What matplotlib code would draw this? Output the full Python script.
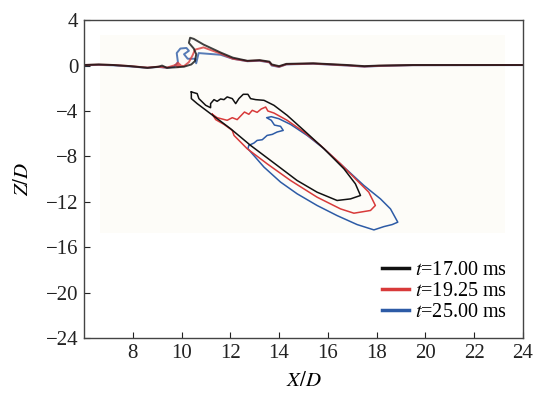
import numpy as np
import matplotlib.pyplot as plt

plt.rcParams['font.family'] = ['Liberation Serif', 'DejaVu Serif']
plt.rcParams['mathtext.fontset'] = 'stix'

labels = ["17.00", "19.25", "25.00"]
colors = ["#111111", "#d83a3a", "#2d5ba6"]

# free surface (x, z) for each time
surf_x_17 = [6.0, 6.6, 7.2, 7.9, 8.6, 9.05, 9.2, 9.4, 9.8, 10.1, 10.4, 10.55, 10.6, 10.5, 10.3,
             10.35, 10.5, 10.9, 11.6, 12.1, 12.7, 13.2, 13.6, 13.7, 14.0, 14.3, 15.4, 16.8,
             17.5, 18.1, 19.5, 24.0]
surf_z_17 = [0.05, 0.1, 0.05, -0.05, -0.2, -0.1, 0.0, -0.2, -0.15, -0.1, 0.1, 0.4, 1.0, 1.5, 2.0,
             2.45, 2.35, 1.85, 1.15, 0.7, 0.42, 0.48, 0.35, 0.1, -0.05, 0.15, 0.2, 0.05,
             -0.05, 0.0, 0.05, 0.05]

surf_x_19 = [6.0, 6.6, 7.2, 7.9, 8.6, 9.05, 9.4, 9.75, 9.85, 9.95, 9.85, 9.75, 10.1, 10.3, 10.45,
             10.55, 10.9, 11.6, 12.1, 12.7, 13.2, 13.6, 13.7, 14.0, 14.3, 15.4, 16.8, 17.5,
             18.1, 19.5, 24.0]
surf_z_19 = [0.05, 0.08, 0.05, -0.05, -0.18, -0.1, -0.18, 0.05, 0.25, 0.05, -0.12, 0.05, -0.05, 0.3, 0.9,
             1.4, 1.6, 1.05, 0.6, 0.4, 0.45, 0.3, 0.05, -0.1, 0.12, 0.18, 0.02, -0.08,
             -0.02, 0.04, 0.05]

surf_x_25 = [6.0, 6.6, 7.2, 7.9, 8.6, 9.05, 9.4, 9.7, 9.85, 9.8, 9.95, 10.2, 10.3, 10.1, 10.25,
             10.55, 10.6, 10.7, 11.6, 12.1, 12.7, 13.2, 13.6, 13.7, 14.0, 14.3, 15.4, 16.8,
             17.5, 18.1, 19.5, 24.0]
surf_z_25 = [0.02, 0.06, 0.02, -0.08, -0.2, -0.12, -0.2, -0.1, 0.3, 1.1, 1.5, 1.55, 1.3, 1.0, 0.6,
             0.6, 0.2, 1.1, 0.95, 0.6, 0.38, 0.42, 0.28, 0.0, -0.12, 0.1, 0.16, 0.0,
             -0.1, -0.04, 0.03, 0.04]

# submerged cavity outlines (closed)
cav_x_17 = [10.40, 10.64, 10.71, 10.99, 11.19, 11.19, 11.33, 11.46, 11.60, 11.74, 11.87, 12.08,
            12.22, 12.35, 12.53, 12.72, 12.83, 13.04, 13.38, 13.79, 14.33, 15.02, 15.84, 16.66,
            17.13, 17.34, 16.93, 16.38, 15.56, 14.74, 13.92, 12.83, 12.01, 11.19, 10.64, 10.40,
            10.40]
cav_z_17 = [-2.32, -2.47, -2.91, -3.50, -3.71, -3.35, -3.00, -3.15, -2.94, -3.00, -2.76, -2.91,
            -3.35, -2.91, -2.53, -2.53, -2.91, -3.00, -3.06, -3.50, -4.38, -5.71, -7.32, -9.09,
            -10.41, -11.44, -11.74, -11.88, -11.15, -10.12, -8.79, -7.03, -5.56, -4.24, -3.35, -2.91,
            -2.32]

cav_x_19 = [11.26, 11.46, 11.87, 12.08, 12.28, 12.45, 12.58, 12.76, 12.90, 13.10, 13.27, 13.45,
            13.54, 13.79, 14.33, 15.02, 15.70, 16.52, 17.20, 17.68, 17.95, 17.75, 17.07, 16.52,
            15.56, 14.47, 13.51, 12.69, 12.15, 12.08, 11.74, 11.40, 11.26]
cav_z_19 = [-4.29, -4.59, -4.82, -4.59, -4.76, -4.38, -4.09, -4.29, -3.94, -4.12, -3.82, -3.65,
            -4.00, -4.18, -4.82, -5.85, -7.03, -8.65, -10.12, -11.15, -12.32, -12.76, -13.00, -12.62,
            -11.59, -10.12, -8.65, -7.32, -6.15, -5.71, -5.18, -4.76, -4.29]

cav_x_25 = [12.76, 12.97, 13.10, 13.31, 13.51, 13.72, 13.92, 14.17, 14.06, 13.81, 13.68, 13.49,
            13.68, 13.99, 14.47, 15.15, 15.84, 16.66, 17.48, 18.16, 18.57, 18.87, 18.64, 18.30,
            17.89, 17.20, 16.38, 15.56, 14.74, 14.06, 13.38, 12.90, 12.72, 12.76]
cav_z_25 = [-7.03, -6.82, -6.59, -6.53, -6.15, -6.06, -5.85, -5.71, -5.35, -5.24, -4.82, -4.59,
            -4.50, -4.68, -5.18, -6.15, -7.32, -8.94, -10.56, -11.74, -12.62, -13.79, -14.00, -14.18,
            -14.47, -14.00, -13.21, -12.32, -11.29, -10.26, -8.94, -7.76, -7.32, -7.03]

x_ticks = [8, 10, 12, 14, 16, 18, 20, 22, 24]
y_ticks = [4, 0, -4, -8, -12, -16, -20, -24]

surfaces = [(surf_x_17, surf_z_17), (surf_x_19, surf_z_19), (surf_x_25, surf_z_25)]
cavities = [(cav_x_17, cav_z_17), (cav_x_19, cav_z_19), (cav_x_25, cav_z_25)]

fig = plt.figure(figsize=(5.39, 3.95), dpi=100)
ax = fig.add_axes([0.156, 0.144, 0.814, 0.805])

# faint background of the simulation snapshot
ax.axvspan(6.65, 23.25, ymin=(-14.7 + 24) / 28, ymax=(2.7 + 24) / 28,
           color='#fdfcf8', lw=0, zorder=0)

# draw later times first so the earliest sits on top
for i in [2, 1, 0]:
    sx, sz = surfaces[i]
    cx, cz = cavities[i]
    ax.plot(sx, sz, color=colors[i], lw=1.4, alpha=0.8)
    ax.plot(cx, cz, color=colors[i], lw=1.1)

for lab, c in zip(labels, colors):
    ax.plot([], [], color=c, lw=2.5, label=rf"$t$={lab} ms")

ax.set_xlim(6, 24)
ax.set_ylim(-24, 4)
ax.set_xticks(x_ticks)
ax.set_yticks(y_ticks)
ax.set_yticklabels([str(v).replace('-', '\u2212') for v in y_ticks])
ax.tick_params(direction='in', length=4, labelsize=15, colors='#222222', pad=4)
for s in ax.spines.values():
    s.set_color('#444444')
    s.set_linewidth(1.0)

ax.set_xlabel(r"$X/D$", fontsize=15, labelpad=7)
ax.set_ylabel(r"$Z/D$", fontsize=15, labelpad=9)

ax.legend(loc='lower right', bbox_to_anchor=(1.0, 0.0), frameon=False, fontsize=14.5,
          handlelength=1.3, handletextpad=0.3, labelspacing=0.1, borderaxespad=0.4)

fig.savefig("out.png", dpi=100)
